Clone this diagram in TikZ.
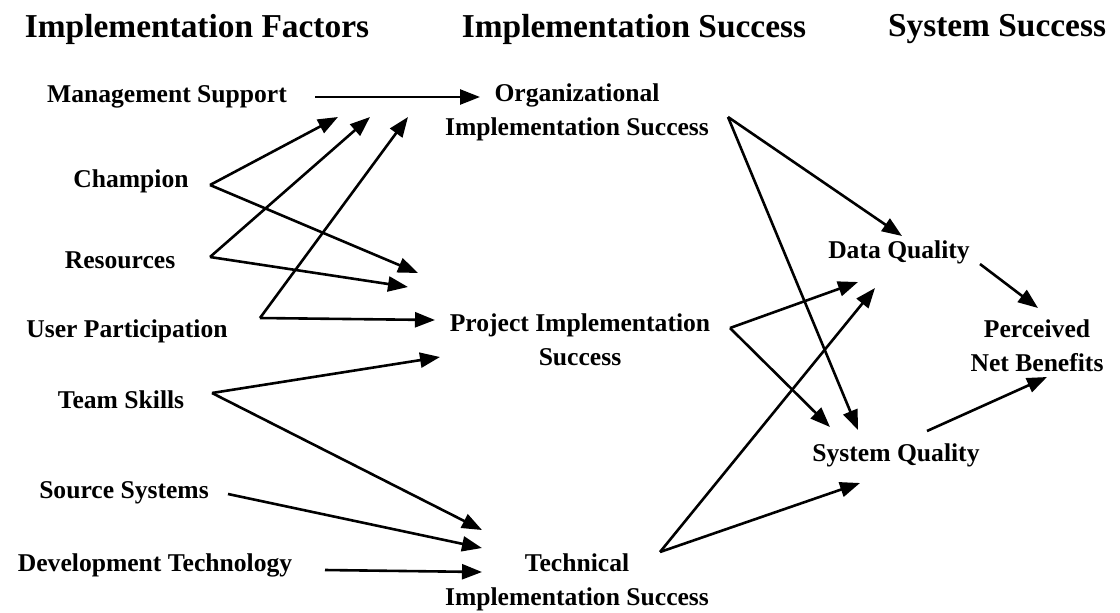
\documentclass[tikz,border=0pt]{standalone}
\usepackage{fontspec}
\setmainfont{Liberation Serif}
\usetikzlibrary{arrows.meta}

\begin{document}
\begin{tikzpicture}[x=0.5pt,y=-0.5pt,
  heading/.style={font=\fontsize{16.7}{20}\selectfont\bfseries},
  factor/.style={font=\fontsize{12.8}{17}\selectfont\bfseries,align=center},
  link/.style={line width=1.3pt,-{Triangle[length=10pt,width=7.5pt]}}]
\useasboundingbox (0,0) rectangle (1120,612);

% column headings
\node[heading] (hfac) at (197,29) {Implementation Factors};
\node[heading] (himp) at (634,29) {Implementation Success};
\node[heading] (hsys) at (997,29) {System Success};

% implementation factors
\node[factor] (mgmt) at (167,97) {Management Support};
\node[factor] (champ) at (131,181) {Champion};
\node[factor] (res) at (120,260) {Resources};
\node[factor] (user) at (127,331) {User Participation};
\node[factor] (team) at (121,400) {Team Skills};
\node[factor] (src) at (124,493) {Source Systems};
\node[factor] (devt) at (155,565) {Development Technology};

% implementation success
\node[factor] (org) at (577,112) {Organizational\\Implementation Success};
\node[factor] (proj) at (580,340) {Project Implementation\\Success};
\node[factor] (tech) at (577,582) {Technical\\Implementation Success};

% system success
\node[factor] (dq) at (899,252) {Data Quality};
\node[factor] (sq) at (896,455) {System Quality};
\node[factor] (pnb) at (1037,346) {Perceived\\Net Benefits};

% arrow ends
\coordinate (mgmt-o) at (315,97);
\coordinate (champ-o) at (210,185);
\coordinate (res-o) at (210,257);
\coordinate (user-o) at (260,318);
\coordinate (team-o) at (212,393);
\coordinate (src-o) at (228,494);
\coordinate (devt-o) at (325,570);
\coordinate (org-i1) at (480,97);
\coordinate (org-i2) at (338,117);
\coordinate (org-i3) at (370,117);
\coordinate (org-i4) at (408,117);
\coordinate (proj-i1) at (418,273);
\coordinate (proj-i2) at (408,287);
\coordinate (proj-i3) at (435,320);
\coordinate (proj-i4) at (440,357);
\coordinate (tech-i1) at (482,530);
\coordinate (tech-i2) at (482,548);
\coordinate (tech-i3) at (482,572);
\coordinate (org-o) at (728,117);
\coordinate (proj-o) at (730,328);
\coordinate (tech-o) at (660,552);
\coordinate (dq-i1) at (902,236);
\coordinate (dq-i2) at (858,282);
\coordinate (dq-i3) at (875,288);
\coordinate (sq-i1) at (858,430);
\coordinate (sq-i2) at (830,427);
\coordinate (sq-i3) at (860,483);
\coordinate (dq-o) at (980,264);
\coordinate (sq-o) at (927,431);
\coordinate (pnb-i1) at (1038,308);
\coordinate (pnb-i2) at (1047,377);

% factors -> implementation success
\draw[link] (mgmt-o) -- (org-i1);
\draw[link] (champ-o) -- (org-i2);
\draw[link] (champ-o) -- (proj-i1);
\draw[link] (res-o) -- (org-i3);
\draw[link] (res-o) -- (proj-i2);
\draw[link] (user-o) -- (org-i4);
\draw[link] (user-o) -- (proj-i3);
\draw[link] (team-o) -- (proj-i4);
\draw[link] (team-o) -- (tech-i1);
\draw[link] (src-o) -- (tech-i2);
\draw[link] (devt-o) -- (tech-i3);

% implementation success -> system success
\draw[link] (org-o) -- (dq-i1);
\draw[link] (org-o) -- (sq-i1);
\draw[link] (proj-o) -- (dq-i2);
\draw[link] (proj-o) -- (sq-i2);
\draw[link] (tech-o) -- (dq-i3);
\draw[link] (tech-o) -- (sq-i3);
\draw[link] (dq-o) -- (pnb-i1);
\draw[link] (sq-o) -- (pnb-i2);
\end{tikzpicture}
\end{document}
